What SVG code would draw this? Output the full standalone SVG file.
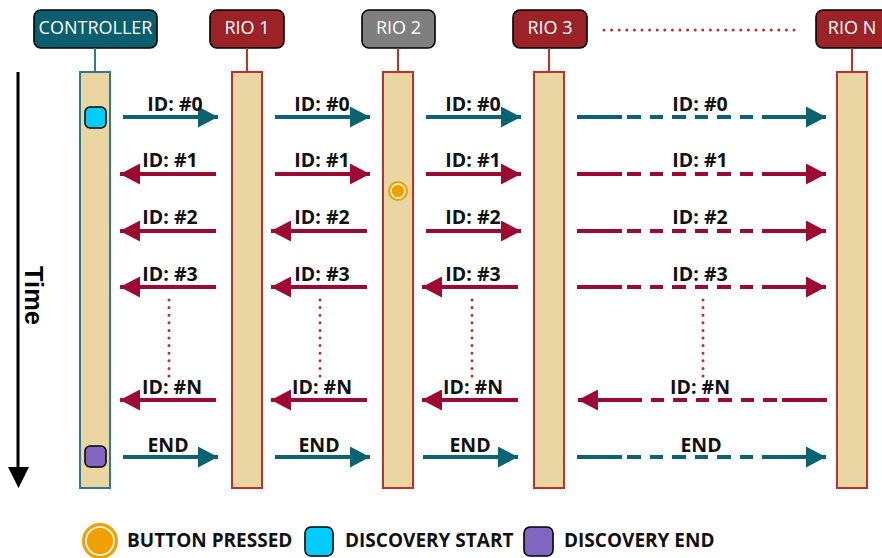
<svg xmlns="http://www.w3.org/2000/svg" width="882" height="558" viewBox="0 0 882 558">
<defs>
<style>
.hdr{stroke:#000;stroke-width:1.6}
.htx{font-family:"Open Sans",sans-serif;font-size:18px;fill:#fff;text-anchor:middle}
.bar{fill:#EAD6A2;stroke:#C0302B;stroke-width:2}
.life{stroke:#C0302B;stroke-width:2}
.lbl{font-family:"Open Sans",sans-serif;font-weight:bold;font-size:19.5px;fill:#111;text-anchor:middle}
.t{stroke:#0A6273;stroke-width:4;fill:none;marker-end:url(#ht)}
.r{stroke:#9C0A34;stroke-width:4;fill:none;marker-end:url(#hr)}
.d{stroke-dasharray:45 5 14 9 13 9 14 9 13 9 14 9 13 9 300}
.dot{stroke:#B8312A;stroke-width:3;stroke-linecap:round;stroke-dasharray:0 7.6;fill:none}
.leg{font-family:"Open Sans",sans-serif;font-weight:bold;font-size:19px;fill:#111}
</style>
<marker id="ht" markerUnits="userSpaceOnUse" markerWidth="20" markerHeight="21" viewBox="0 0 20 21" refX="20" refY="10.5" orient="auto"><path d="M0,0L20,10.5L0,21Z" fill="#0A6273"/></marker>
<marker id="hr" markerUnits="userSpaceOnUse" markerWidth="20" markerHeight="21" viewBox="0 0 20 21" refX="20" refY="10.5" orient="auto"><path d="M0,0L20,10.5L0,21Z" fill="#9C0A34"/></marker>
</defs>
<rect width="882" height="558" fill="#fff"/>

<g id="time-axis">
<line x1="18" y1="72" x2="18" y2="468" stroke="#000" stroke-width="3"/>
<path d="M8,467L29,467L18.5,488Z" fill="#000"/>
<text transform="translate(25,266) rotate(90)" font-family="Liberation Sans,Arial,sans-serif" font-weight="bold" font-size="25.5" fill="#000">Time</text>
</g>

<g id="controller">
<rect class="hdr" x="34" y="10" width="123" height="38" rx="7" fill="#0B5E6E"/>
<text class="htx" x="95.5" y="34">CONTROLLER</text>
<line x1="95" y1="48" x2="95" y2="72" stroke="#2E7A8A" stroke-width="2"/>
<rect x="80" y="72" width="30" height="416" fill="#EAD6A2" stroke="#2E7A8A" stroke-width="2"/>
<rect x="85" y="107" width="21" height="21" rx="5" fill="#00CCFF" stroke="#000" stroke-width="1.5"/>
<rect x="85" y="446" width="21" height="21" rx="5" fill="#8166C0" stroke="#000" stroke-width="1.5"/>
</g>

<g id="rio1">
<rect class="hdr" x="210" y="10" width="74" height="38" rx="7" fill="#9B2226"/>
<text class="htx" x="247" y="34">RIO 1</text>
<line class="life" x1="247" y1="48" x2="247" y2="72"/>
<rect class="bar" x="232" y="72" width="30" height="416"/>
</g>

<g id="rio2">
<rect class="hdr" x="362" y="10" width="73" height="38" rx="7" fill="#7F7F7F"/>
<text class="htx" x="398.5" y="34">RIO 2</text>
<line class="life" x1="398" y1="48" x2="398" y2="72"/>
<rect class="bar" x="383" y="72" width="30" height="416"/>
<circle cx="398" cy="191" r="10" fill="#F0A000"/>
<circle cx="398" cy="191" r="7" fill="none" stroke="#fff" stroke-width="1.3"/>
</g>

<g id="rio3">
<rect class="hdr" x="513" y="10" width="74" height="38" rx="7" fill="#9B2226"/>
<text class="htx" x="550" y="34">RIO 3</text>
<line class="life" x1="549" y1="48" x2="549" y2="72"/>
<rect class="bar" x="534" y="72" width="30" height="416"/>
</g>

<g id="rion">
<rect class="hdr" x="816" y="10" width="80" height="38" rx="7" fill="#9B2226"/>
<text class="htx" x="852" y="34">RIO N</text>
<line class="life" x1="852" y1="48" x2="852" y2="72"/>
<rect class="bar" x="837" y="72" width="30" height="416"/>
</g>

<g id="connectors">
<line class="dot" x1="604" y1="30" x2="798" y2="30"/>
<!-- row 0 -->
<line class="t" x1="123" y1="117" x2="218" y2="117"/>
<line class="t" x1="275" y1="117" x2="370" y2="117"/>
<line class="t" x1="426" y1="117" x2="521" y2="117"/>
<line class="t d" x1="577" y1="117" x2="826" y2="117"/>
<!-- row 1 -->
<line class="r" x1="216" y1="174" x2="120" y2="174"/>
<line class="r" x1="275" y1="174" x2="370" y2="174"/>
<line class="r" x1="426" y1="174" x2="521" y2="174"/>
<line class="r d" x1="577" y1="174" x2="826" y2="174"/>
<!-- row 2 -->
<line class="r" x1="216" y1="231" x2="120" y2="231"/>
<line class="r" x1="367" y1="231" x2="271" y2="231"/>
<line class="r" x1="426" y1="231" x2="521" y2="231"/>
<line class="r d" x1="577" y1="231" x2="826" y2="231"/>
<!-- row 3 -->
<line class="r" x1="216" y1="287" x2="120" y2="287"/>
<line class="r" x1="367" y1="287" x2="271" y2="287"/>
<line class="r" x1="518" y1="287" x2="422" y2="287"/>
<line class="r d" x1="577" y1="287" x2="826" y2="287"/>
<!-- dotted continuation -->
<line class="dot" x1="169" y1="300" x2="169" y2="378"/>
<line class="dot" x1="320" y1="300" x2="320" y2="378"/>
<line class="dot" x1="472" y1="300" x2="472" y2="378"/>
<line class="dot" x1="703" y1="300" x2="703" y2="378"/>
<!-- row N -->
<line class="r" x1="216" y1="400" x2="120" y2="400"/>
<line class="r" x1="367" y1="400" x2="271" y2="400"/>
<line class="r" x1="518" y1="400" x2="422" y2="400"/>
<line class="r d" x1="827" y1="400" x2="578" y2="400"/>
<!-- END -->
<line class="t" x1="123" y1="457" x2="218" y2="457"/>
<line class="t" x1="275" y1="457" x2="370" y2="457"/>
<line class="t" x1="423" y1="457" x2="518" y2="457"/>
<line class="t d" x1="577" y1="457" x2="826" y2="457"/>
</g>

<g id="labels">
<text class="lbl" x="175" y="111">ID: #0</text>
<text class="lbl" x="322" y="111">ID: #0</text>
<text class="lbl" x="473" y="111">ID: #0</text>
<text class="lbl" x="700" y="111">ID: #0</text>
<text class="lbl" x="170" y="167">ID: #1</text>
<text class="lbl" x="322" y="167">ID: #1</text>
<text class="lbl" x="473" y="167">ID: #1</text>
<text class="lbl" x="700" y="167">ID: #1</text>
<text class="lbl" x="170" y="224">ID: #2</text>
<text class="lbl" x="322" y="224">ID: #2</text>
<text class="lbl" x="473" y="224">ID: #2</text>
<text class="lbl" x="700" y="224">ID: #2</text>
<text class="lbl" x="170" y="281">ID: #3</text>
<text class="lbl" x="322" y="281">ID: #3</text>
<text class="lbl" x="473" y="281">ID: #3</text>
<text class="lbl" x="700" y="281">ID: #3</text>
<text class="lbl" x="172" y="394">ID: #N</text>
<text class="lbl" x="322" y="394">ID: #N</text>
<text class="lbl" x="473" y="394">ID: #N</text>
<text class="lbl" x="700" y="394">ID: #N</text>
<text class="lbl" x="168" y="452">END</text>
<text class="lbl" x="319" y="452">END</text>
<text class="lbl" x="470" y="452">END</text>
<text class="lbl" x="701" y="452">END</text>
</g>

<g id="legend">
<circle cx="100" cy="541" r="18" fill="#F0A000"/>
<circle cx="100" cy="541" r="14" fill="none" stroke="#fff" stroke-width="1.6"/>
<text class="leg" x="127" y="547">BUTTON PRESSED</text>
<rect x="305" y="527" width="28" height="29" rx="6" fill="#00CCFF" stroke="#000" stroke-width="1.6"/>
<text class="leg" x="345" y="547">DISCOVERY START</text>
<rect x="524" y="527" width="29" height="29" rx="6" fill="#8166C0" stroke="#000" stroke-width="1.6"/>
<text class="leg" x="564" y="547">DISCOVERY END</text>
</g>
</svg>
